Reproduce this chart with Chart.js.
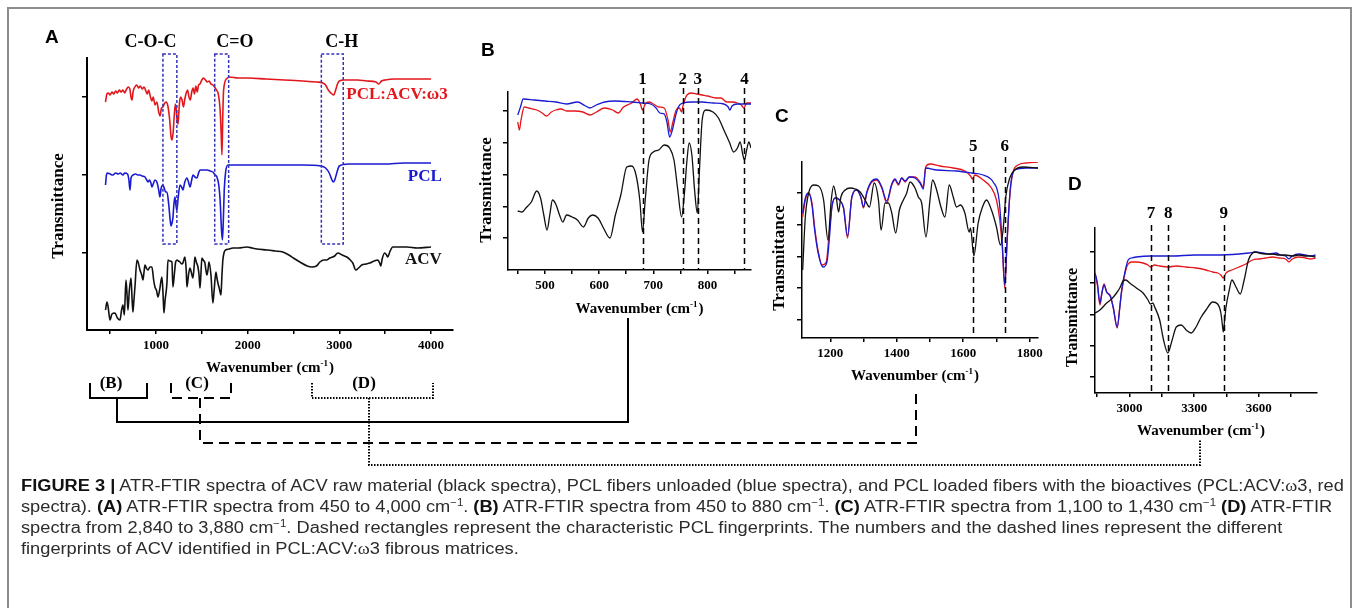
<!DOCTYPE html>
<html><head><meta charset="utf-8">
<script src="https://cdn.jsdelivr.net/npm/chart.js@4.4.1/dist/chart.umd.min.js"></script>
<style>
html,body{margin:0;padding:0;background:#fff;}
#stage{position:relative;width:1358px;height:608px;overflow:hidden;background:#fff;}
canvas.layer{position:absolute;left:0;top:0;}
#frame{position:absolute;left:7px;top:7px;width:1345px;height:700px;border:2px solid #8d8d8d;box-sizing:border-box;}
.cap{position:absolute;left:21px;white-space:nowrap;font-family:"Liberation Sans Narrow","Liberation Sans",Arial,sans-serif;font-size:16px;line-height:18px;color:#2b2b2b;transform-origin:0 50%;}
.cap b{font-weight:bold;color:#111;}
.cap .w{font-family:"Liberation Serif",serif;}
#conn{position:absolute;left:0;top:0;}
</style></head><body>
<div id="stage">
<div id="frame"></div>
<canvas id="cA" class="layer" width="1358" height="608"></canvas>
<canvas id="cB" class="layer" width="1358" height="608"></canvas>
<canvas id="cC" class="layer" width="1358" height="608"></canvas>
<canvas id="cD" class="layer" width="1358" height="608"></canvas>
<svg id="conn" width="1358" height="608">
 <g fill="none" stroke="#000" stroke-width="2">
  <polyline points="90,383 90,398 147,398 147,383"/>
  <polyline points="117,398 117,422 628,422 628,318"/>
 </g>
 <g fill="none" stroke="#000" stroke-width="2" stroke-dasharray="10,6">
  <polyline points="171,383 171,398 231,398 231,383"/>
  <polyline points="200,398 200,443 916,443 916,388"/>
 </g>
 <g fill="none" stroke="#000" stroke-width="2" stroke-dasharray="1.5,1.5">
  <polyline points="312,383 312,398 433,398 433,383"/>
  <polyline points="369,398 369,465 1200,465 1200,440"/>
 </g>
 <g font-family="Liberation Serif, Times New Roman, serif" font-weight="bold" font-size="17" text-anchor="middle" fill="#000">
  <text x="111" y="388">(B)</text>
  <text x="197" y="388">(C)</text>
  <text x="364" y="388">(D)</text>
 </g>
</svg>
<div class="cap" id="l1" style="top:477px"><b>FIGURE 3 |</b> ATR-FTIR spectra of ACV raw material (black spectra), PCL fibers unloaded (blue spectra), and PCL loaded fibers with the bioactives (PCL:ACV:<span class="w">ω</span>3, red</div>
<div class="cap" id="l2" style="top:498px">spectra). <b>(A)</b> ATR-FTIR spectra from 450 to 4,000 cm<sup style="font-size:10px;line-height:0">−1</sup>. <b>(B)</b> ATR-FTIR spectra from 450 to 880 cm<sup style="font-size:10px;line-height:0">−1</sup>. <b>(C)</b> ATR-FTIR spectra from 1,100 to 1,430 cm<sup style="font-size:10px;line-height:0">−1</sup> <b>(D)</b> ATR-FTIR</div>
<div class="cap" id="l3" style="top:519px">spectra from 2,840 to 3,880 cm<sup style="font-size:10px;line-height:0">−1</sup>. Dashed rectangles represent the characteristic PCL fingerprints. The numbers and the dashed lines represent the different</div>
<div class="cap" id="l4" style="top:540px">fingerprints of ACV identified in PCL:ACV:<span class="w">ω</span>3 fibrous matrices.</div>
</div>
<script>
// ================= DATA (wavenumber cm-1, transmittance a.u.) =================
// Panel A
const A_red = [[450,228],[465,236],[480,237],[500,235],[520,238],[540,236],[560,239],[580,237],[600,240],[620,238],[640,240],[660,237],[680,241],[700,243],[715,241],[730,232],[740,230],[750,238],[770,243],[790,245],[810,242],[830,244],[850,241],[870,243],[890,239],[905,236],[920,240],[940,233],[955,229],[970,233],[990,225],[1010,228],[1030,218],[1045,214],[1060,222],[1075,223],[1090,226],[1110,228],[1130,224],[1150,210],[1165,193],[1175,190],[1188,198],[1200,215],[1212,226],[1222,220],[1232,208],[1240,206],[1248,215],[1258,228],[1270,233],[1285,230],[1300,223],[1315,231],[1330,237],[1345,240],[1360,233],[1375,230],[1390,238],[1405,242],[1420,236],[1435,244],[1450,238],[1465,245],[1480,246],[1500,250],[1520,252],[1540,250],[1560,248],[1580,249],[1600,246],[1620,245],[1640,243],[1660,240],[1680,236],[1700,220],[1712,195],[1720,175],[1728,210],[1735,235],[1745,245],[1760,250],[1780,252],[1800,253],[1900,252],[2000,252],[2200,251],[2400,250],[2600,249],[2750,248],[2820,247],[2850,245],[2880,240],[2920,236],[2940,235],[2960,240],[2980,246],[3000,249],[3050,250],[3100,250],[3200,250],[3300,249],[3400,248],[3430,246],[3460,249],[3500,250],[3600,251],[3800,251],[4000,251]];
const A_blue = [[450,145],[460,155],[470,157],[500,156],[530,155],[560,157],[590,156],[610,157],[640,155],[660,157],[690,156],[705,150],[717,140],[728,152],[750,155],[780,156],[800,155],[826,155],[850,154],[880,153],[900,150],[915,148],[930,150],[945,147],[956,143],[970,146],[989,150],[1010,148],[1030,140],[1044,133],[1055,141],[1076,145],[1090,142],[1105,138],[1120,138],[1140,125],[1155,110],[1165,104],[1175,107],[1185,112],[1195,125],[1207,133],[1218,125],[1229,120],[1240,130],[1262,145],[1280,143],[1294,140],[1315,148],[1338,152],[1355,148],[1371,143],[1390,150],[1403,155],[1425,153],[1447,152],[1465,157],[1480,160],[1520,160],[1556,160],[1590,159],[1621,158],[1645,155],[1665,153],[1685,145],[1700,130],[1715,100],[1725,90],[1735,110],[1745,140],[1760,158],[1785,165],[1850,165],[2000,165],[2200,165],[2400,165],[2600,165],[2800,164],[2850,162],[2890,157],[2920,150],[2935,148],[2950,150],[2975,158],[3000,164],[3100,166],[3300,166],[3500,166],[3700,167],[3900,167],[4000,167]];
const A_black = [[450,20],[466,28],[480,22],[499,10],[520,16],[553,17],[580,12],[608,10],[625,20],[640,25],[655,15],[673,50],[685,35],[695,20],[710,40],[728,52],[740,30],[749,18],[760,30],[771,43],[793,70],[805,68],[826,60],[845,55],[858,50],[870,58],[880,65],[895,62],[913,60],[935,63],[956,63],[975,50],[989,43],[1005,40],[1022,33],[1040,40],[1065,53],[1078,35],[1087,17],[1100,30],[1120,47],[1131,70],[1150,69],[1174,68],[1185,43],[1200,55],[1215,68],[1229,70],[1245,69],[1262,68],[1280,66],[1294,67],[1316,73],[1330,60],[1338,43],[1355,55],[1371,62],[1385,58],[1403,52],[1415,62],[1425,73],[1440,68],[1458,63],[1470,55],[1480,42],[1490,55],[1501,72],[1515,70],[1534,67],[1545,60],[1556,55],[1570,62],[1578,68],[1600,55],[1621,27],[1635,40],[1654,58],[1665,52],[1676,47],[1690,42],[1709,35],[1720,55],[1730,70],[1745,78],[1760,80],[1800,81],[1839,82],[1900,82],[1992,83],[2050,82],[2100,81],[2210,80],[2300,79],[2384,78],[2450,75],[2500,72],[2570,68],[2650,64],[2700,63],[2750,64],[2788,68],[2830,70],[2860,70],[2897,72],[2950,74],[2984,77],[3030,75],[3082,73],[3120,70],[3147,67],[3180,60],[3210,62],[3245,65],[3290,66],[3333,67],[3380,69],[3420,70],[3440,67],[3452,64],[3470,72],[3496,77],[3515,75],[3528,73],[3550,78],[3583,83],[3650,83],[3736,83],[3850,82],[4000,83]];
const A_xTicks = [500,1000,1500,2000,2500,3000,3500,4000];
const A_xLabels = [1000,2000,3000,4000];
const A_yTicks = [77,155,233];
const A_boxes = [[1076,1228],[1641,1793],[2804,3043]];
const A_boxNames = ['C-O-C','C=O','C-H'];
const A_boxNameX = [940,1861,3027];
const A_seriesNames = ['PCL:ACV:ω3','PCL','ACV'];

// Panel B
const B_red = [[450,148],[453,140],[456,150],[462,163],[470,162],[485,160],[495,157],[503,154],[512,158],[520,160],[530,161],[540,159],[555,159],[570,158],[583,155],[595,158],[610,162],[625,160],[635,157],[645,163],[660,167],[670,171],[676,166],[680,160],[685,166],[692,168],[700,166],[710,163],[720,162],[727,150],[731,138],[736,148],[742,160],[748,162],[752,158],[755,165],[762,175],[770,177],[780,176],[790,175],[800,174],[815,172],[825,172],[835,168],[845,168],[855,167],[862,165],[867,162],[872,167],[880,167]];
const B_blue = [[450,155],[455,163],[460,171],[480,170],[500,169],[520,168],[540,166],[560,168],[575,164],[583,162],[595,165],[610,168],[630,169],[660,168],[680,167],[695,166],[705,162],[712,157],[720,156],[725,148],[730,133],[735,140],[740,152],[746,163],[755,167],[770,168],[790,168],[810,167],[830,166],[838,163],[841,160],[845,164],[855,166],[870,166],[880,166]];
const B_black = [[450,59],[458,58],[465,62],[475,68],[485,79],[492,72],[498,55],[504,40],[509,55],[514,70],[520,66],[527,55],[533,48],[540,55],[550,53],[560,50],[571,43],[580,52],[588,55],[598,52],[608,42],[620,32],[630,55],[640,75],[651,103],[660,104],[668,95],[675,70],[680,38],[685,70],[692,110],[700,118],[710,120],[720,125],[730,122],[738,110],[745,80],[752,53],[757,75],[762,110],[766,127],[771,115],[776,80],[781,57],[785,100],[790,150],[797,160],[810,158],[820,152],[830,140],[840,128],[848,118],[855,122],[860,128],[865,115],[868,110],[872,120],[876,128],[880,122]];
const B_xTicks = [450,500,550,600,650,700,750,800,850];
const B_xLabels = [500,600,700,800];
const B_yTicks = [32,63,95,127,159];
const B_marks = [680,754,782,868];
const B_markNames = ['1','2','3','4'];

// Panel C
const C_red = [[1117,121],[1125,138],[1135,145],[1145,135],[1153,111],[1163,88],[1175,73],[1188,76],[1195,98],[1205,131],[1215,140],[1228,138],[1240,130],[1252,100],[1265,141],[1280,148],[1292,141],[1300,130],[1310,145],[1325,156],[1340,158],[1355,150],[1370,135],[1385,153],[1395,158],[1405,153],[1415,160],[1425,156],[1438,161],[1455,161],[1470,156],[1480,151],[1487,171],[1500,174],[1530,172],[1570,170],[1605,167],[1622,162],[1628,159],[1635,163],[1660,158],[1685,150],[1700,138],[1710,118],[1718,88],[1725,50],[1732,95],[1740,141],[1750,166],[1765,173],[1790,175],[1825,176]];
const C_blue = [[1117,125],[1125,140],[1135,145],[1145,133],[1153,108],[1163,86],[1178,71],[1190,76],[1197,98],[1205,131],[1215,140],[1228,138],[1240,130],[1252,102],[1265,141],[1280,148],[1292,141],[1300,131],[1310,146],[1325,157],[1340,159],[1355,151],[1370,137],[1385,154],[1395,159],[1405,154],[1415,160],[1425,157],[1438,161],[1455,160],[1470,155],[1480,149],[1487,170],[1520,168],[1580,167],[1625,165],[1660,163],[1690,156],[1708,138],[1717,98],[1725,53],[1732,98],[1742,151],[1755,168],[1790,170],[1825,170]];
const C_black = [[1117,68],[1125,121],[1135,145],[1150,153],[1165,152],[1180,138],[1193,98],[1203,138],[1210,152],[1218,141],[1225,126],[1232,141],[1245,148],[1260,150],[1275,149],[1290,146],[1305,138],[1318,131],[1332,155],[1345,138],[1353,108],[1365,135],[1375,135],[1385,125],[1397,105],[1408,128],[1420,138],[1430,145],[1440,156],[1455,150],[1465,141],[1475,135],[1488,101],[1500,138],[1508,158],[1520,148],[1533,131],[1545,121],[1558,153],[1570,141],[1580,131],[1592,133],[1605,125],[1618,106],[1622,110],[1632,82],[1645,115],[1658,131],[1670,138],[1685,128],[1700,111],[1712,93],[1720,108],[1728,141],[1740,160],[1755,168],[1780,171],[1825,170]];
const C_xTicks = [1200,1300,1400,1500,1600,1700,1800];
const C_xLabels = [1200,1400,1600,1800];
const C_yTicks = [18,50,81,113,145];
const C_marks = [1630,1725];
const C_markNames = ['5','6'];

// Panel D
const D_red = [[2840,120],[2851,108],[2863,88],[2872,100],[2882,109],[2894,101],[2912,97],[2925,85],[2943,65],[2955,86],[2963,100],[2983,123],[2994,129],[3010,131],[3032,131],[3063,130],[3086,128],[3097,126],[3117,128],[3140,127],[3178,126],[3217,127],[3263,126],[3309,125],[3355,123],[3386,121],[3409,120],[3424,118],[3435,115],[3448,120],[3475,123],[3509,126],[3540,129],[3571,133],[3601,134],[3632,135],[3663,136],[3694,135],[3724,134],[3740,131],[3755,134],[3786,136],[3817,135],[3840,134],[3863,135]];
const D_blue = [[2840,120],[2851,110],[2863,90],[2872,100],[2882,108],[2894,101],[2912,96],[2925,85],[2943,66],[2955,85],[2963,102],[2983,125],[2994,133],[3010,135],[3032,136],[3100,137],[3200,137],[3300,138],[3400,138],[3509,139],[3555,140],[3586,141],[3620,140],[3650,139],[3680,140],[3700,138],[3724,137],[3740,134],[3755,137],[3786,139],[3817,138],[3840,137],[3863,138]];
const D_black = [[2840,80],[2863,83],[2894,90],[2917,94],[2940,100],[2955,105],[2970,112],[2983,113],[3001,110],[3032,105],[3063,100],[3086,93],[3097,89],[3108,90],[3117,86],[3140,73],[3158,53],[3178,40],[3198,53],[3217,66],[3240,68],[3263,63],[3286,60],[3309,66],[3330,75],[3355,83],[3386,91],[3409,89],[3424,80],[3430,70],[3435,61],[3441,72],[3448,86],[3463,103],[3475,113],[3494,106],[3514,99],[3532,113],[3552,133],[3571,140],[3586,141],[3601,140],[3632,139],[3663,139],[3694,138],[3724,138],[3755,137],[3786,138],[3817,137],[3840,137],[3863,136]];
const D_xTicks = [2850,3000,3150,3300,3450,3600,3750];
const D_xLabels = [3000,3300,3600];
const D_yTicks = [16,47,78,110,141];
const D_marks = [3100,3180,3437];
const D_markNames = ['7','8','9'];

// ================= DRAWING =================
const SERIF = '"Liberation Serif","Times New Roman",serif';
const SANS = '"Liberation Sans",Arial,sans-serif';
const RED = '#e3161b', BLUE = '#1a1ad2', BLACK = '#111111';
const XH = 40, YW = 30;

function yTitle(ctx, ar, dx, dy, size){
  ctx.save();
  ctx.translate(ar.left + dx, (ar.top + ar.bottom)/2 + dy);
  ctx.rotate(-Math.PI/2);
  ctx.font = 'bold ' + size + 'px ' + SERIF;
  ctx.fillStyle = '#000'; ctx.textAlign = 'center'; ctx.textBaseline = 'middle';
  ctx.fillText('Transmittance', 0, 0);
  ctx.restore();
}
function xTitle(ctx, ar, dx, dy, size){
  ctx.save();
  ctx.fillStyle = '#000'; ctx.textBaseline = 'alphabetic'; ctx.textAlign = 'left';
  const big = 'bold ' + size + 'px ' + SERIF, small = 'bold ' + Math.round(size*0.62) + 'px ' + SERIF;
  const p1 = 'Wavenumber (cm', p2 = '-1', p3 = ')';
  ctx.font = big; const w1 = ctx.measureText(p1).width, w3 = ctx.measureText(p3).width;
  ctx.font = small; const w2 = ctx.measureText(p2).width;
  const tot = w1 + w2 + w3 + 1;
  let x = (ar.left + ar.right)/2 + dx - tot/2;
  const yb = ar.bottom + dy + size*0.35;
  ctx.font = big; ctx.fillText(p1, x, yb); x += w1;
  ctx.font = small; ctx.fillText(p2, x, yb - size*0.42); x += w2 + 1;
  ctx.font = big; ctx.fillText(p3, x, yb);
  ctx.restore();
}
function letter(ctx, ar, ch, dx, dy){
  ctx.save(); ctx.font = 'bold 19px ' + SANS; ctx.fillStyle = '#000';
  ctx.textAlign = 'left'; ctx.textBaseline = 'alphabetic';
  ctx.fillText(ch, ar.left + dx, ar.top + dy); ctx.restore();
}
function marks(chart, vals, names, topVal, labVal){
  const ctx = chart.ctx, xa = chart.scales.x, ya = chart.scales.y;
  ctx.save();
  ctx.strokeStyle = '#000'; ctx.lineWidth = 1.5; ctx.setLineDash([6,4]);
  vals.forEach((v,i) => {
    const x = Math.round(xa.getPixelForValue(v)) + 0.5;
    ctx.beginPath(); ctx.moveTo(x, ya.getPixelForValue(topVal)); ctx.lineTo(x, ya.getPixelForValue(ya.min)); ctx.stroke();
  });
  ctx.setLineDash([]);
  ctx.font = 'bold 17px ' + SERIF; ctx.fillStyle = '#000'; ctx.textAlign = 'center'; ctx.textBaseline = 'middle';
  vals.forEach((v,i) => ctx.fillText(names[i], xa.getPixelForValue(v), ya.getPixelForValue(labVal)));
  ctx.restore();
}

function panel(id, area, xr, yr, series, lw, bw, extra){
  return new Chart(document.getElementById(id), {
    type: 'line',
    data: { datasets: series.map(s => ({ data: s[0], borderColor: s[1], borderWidth: lw, pointRadius: 0, fill: false, cubicInterpolationMode: 'monotone' })) },
    options: {
      responsive: false, animation: false, events: [], devicePixelRatio: 1,
      layout: { padding: { left: area.l - YW, top: area.t, right: 1358 - area.r, bottom: 608 - area.b - XH } },
      plugins: { legend: { display: false }, tooltip: { enabled: false } },
      scales: {
        x: { type: 'linear', min: xr.min, max: xr.max,
             afterFit: s => { s.height = XH; s.paddingLeft = 0; s.paddingRight = 0; },
             afterBuildTicks: s => { s.ticks = xr.ticks.map(v => ({ value: v })); },
             ticks: { autoSkip: false, maxRotation: 0, minRotation: 0, padding: 4, color: '#000',
                      font: { family: SERIF, weight: 'bold', size: 13 },
                      callback: v => xr.labels.includes(v) ? String(v) : '' },
             grid: { drawOnChartArea: false, drawTicks: true, tickLength: 4, color: '#000', lineWidth: 1.5 },
             border: { display: true, color: '#000', width: bw } },
        y: { type: 'linear', min: yr.min, max: yr.max,
             afterFit: s => { s.width = YW; s.paddingTop = 0; s.paddingBottom = 0; },
             afterBuildTicks: s => { s.ticks = yr.ticks.map(v => ({ value: v })); },
             ticks: { display: false },
             grid: { drawOnChartArea: false, drawTicks: true, tickLength: 5, color: '#000', lineWidth: 1.5 },
             border: { display: true, color: '#000', width: bw } }
      }
    },
    plugins: [{ id: 'annot' + id, afterDraw: chart => extra(chart) }]
  });
}

// ---- Panel A ----
panel('cA', {l:87, t:58, r:453, b:330},
  {min:248, max:4240, ticks:A_xTicks, labels:A_xLabels},
  {min:0, max:272, ticks:A_yTicks},
  [[A_black, BLACK],[A_blue, BLUE],[A_red, RED]], 1.6, 2,
  chart => {
    const ctx = chart.ctx, xa = chart.scales.x, ya = chart.scales.y, ar = chart.chartArea;
    ctx.save();
    ctx.strokeStyle = '#3333b8'; ctx.lineWidth = 1.5; ctx.setLineDash([3,2]);
    A_boxes.forEach(b => {
      const x1 = xa.getPixelForValue(b[0]), x2 = xa.getPixelForValue(b[1]);
      const y1 = ya.getPixelForValue(276), y2 = ya.getPixelForValue(86);
      ctx.strokeRect(x1, y1, x2 - x1, y2 - y1);
    });
    ctx.setLineDash([]);
    ctx.font = 'bold 18px ' + SERIF; ctx.fillStyle = '#000'; ctx.textAlign = 'center'; ctx.textBaseline = 'middle';
    A_boxNames.forEach((n,i) => ctx.fillText(n, xa.getPixelForValue(A_boxNameX[i]), ya.getPixelForValue(288)));
    ctx.font = 'bold 17px ' + SERIF; ctx.textAlign = 'right';
    ctx.fillStyle = RED;   ctx.fillText(A_seriesNames[0], xa.getPixelForValue(4183), ya.getPixelForValue(235));
    ctx.fillStyle = BLUE;  ctx.fillText(A_seriesNames[1], xa.getPixelForValue(4118), ya.getPixelForValue(153));
    ctx.fillStyle = BLACK; ctx.fillText(A_seriesNames[2], xa.getPixelForValue(4118), ya.getPixelForValue(70));
    ctx.restore();
    yTitle(ctx, ar, -28, 12, 17);
    xTitle(ctx, ar, 0, 37, 15);
    letter(ctx, ar, 'A', -42, -15);
  });

// ---- Panel B ----
panel('cB', {l:508, t:92, r:751, b:270},
  {min:432, max:880, ticks:B_xTicks, labels:B_xLabels},
  {min:0, max:178, ticks:B_yTicks},
  [[B_black, BLACK],[B_blue, BLUE],[B_red, RED]], 1.3, 1.5,
  chart => {
    const ctx = chart.ctx, ar = chart.chartArea;
    marks(chart, B_marks, B_markNames, 182, 190);
    yTitle(ctx, ar, -21, 9, 17);
    xTitle(ctx, ar, 10, 38, 15);
    letter(ctx, ar, 'B', -27, -36);
  });

// ---- Panel C ----
panel('cC', {l:802, t:162, r:1038, b:338},
  {min:1115, max:1825, ticks:C_xTicks, labels:C_xLabels},
  {min:0, max:176, ticks:C_yTicks},
  [[C_black, BLACK],[C_blue, BLUE],[C_red, RED]], 1.3, 1.5,
  chart => {
    const ctx = chart.ctx, ar = chart.chartArea;
    marks(chart, C_marks, C_markNames, 181, 191);
    yTitle(ctx, ar, -22, 8, 17);
    xTitle(ctx, ar, -5, 37, 15);
    letter(ctx, ar, 'C', -27, -40);
  });

// ---- Panel D ----
panel('cD', {l:1095, t:228, r:1317, b:393},
  {min:2840, max:3870, ticks:D_xTicks, labels:D_xLabels},
  {min:0, max:165, ticks:D_yTicks},
  [[D_black, BLACK],[D_blue, BLUE],[D_red, RED]], 1.3, 1.5,
  chart => {
    const ctx = chart.ctx, ar = chart.chartArea;
    marks(chart, D_marks, D_markNames, 168, 179);
    yTitle(ctx, ar, -22, 7, 16);
    xTitle(ctx, ar, -5, 37, 15);
    letter(ctx, ar, 'D', -27, -38);
  });

// ---- caption line fitting ----
(function(){
  const targets = {l1: 1317, l2: 1317};
  let ks = [];
  ['l1','l2'].forEach(id => { const el = document.getElementById(id); ks.push(targets[id] / el.getBoundingClientRect().width); });
  const k = (ks[0] + ks[1]) / 2;
  ['l1','l2','l3','l4'].forEach(id => { document.getElementById(id).style.transform = 'scaleX(' + k + ')'; });
})();
</script>
</body></html>
